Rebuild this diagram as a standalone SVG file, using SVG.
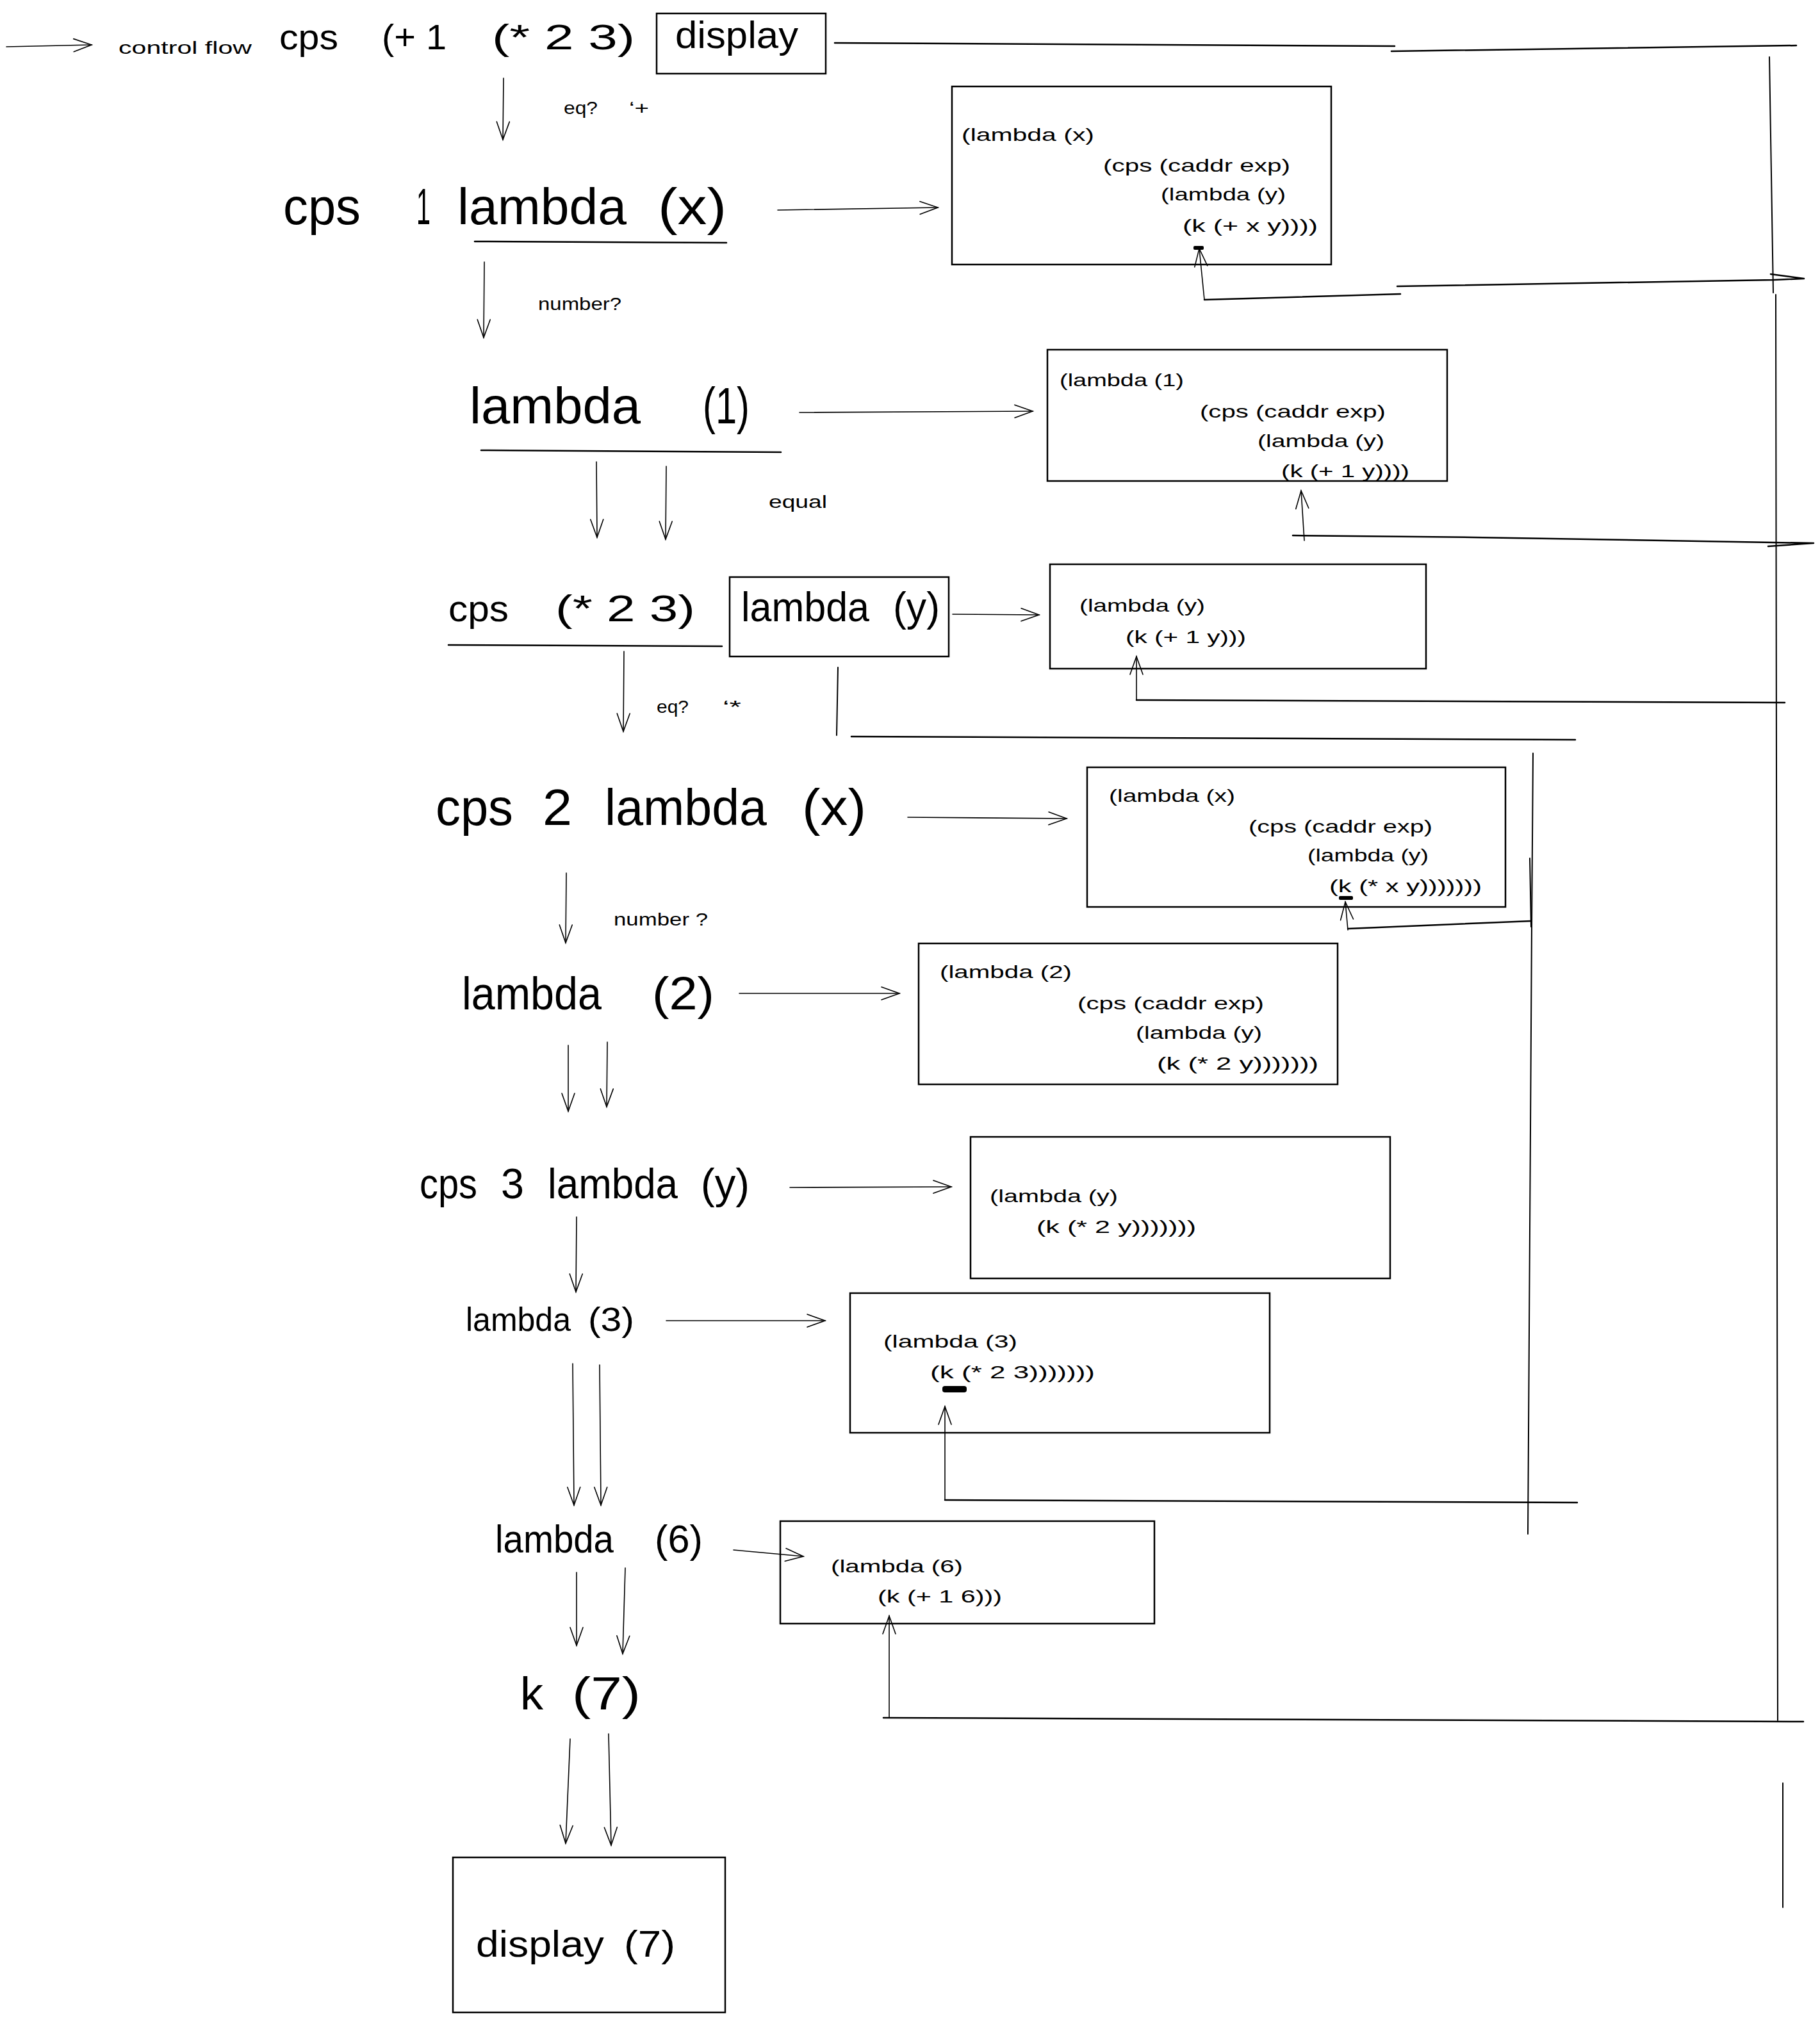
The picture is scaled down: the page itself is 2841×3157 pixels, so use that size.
<svg xmlns="http://www.w3.org/2000/svg" width="2841" height="3157" viewBox="0 0 2841 3157">
<style>
.t{font-family:"Liberation Sans",Arial,sans-serif;fill:#000}
.s{font-size:28px}
.box{fill:none;stroke:#000;stroke-width:2.5}
.ln{fill:none;stroke:#000;stroke-width:2.5;stroke-linecap:round;stroke-linejoin:round}
.vl{fill:none;stroke:#000;stroke-width:2;stroke-linecap:round}
.ar{fill:none;stroke:#000;stroke-width:1.6;stroke-linecap:round;marker-end:url(#ah)}
.mk{fill:#000}
</style>
<defs>
<marker id="ah" markerUnits="userSpaceOnUse" markerWidth="40" markerHeight="30" refX="30" refY="15" orient="auto" viewBox="0 0 40 30">
<path d="M2,5 L30,15 L2,25" fill="none" stroke="#000" stroke-width="1.6" stroke-linecap="round"/>
</marker>
</defs>
<rect width="2841" height="3157" fill="#fff"/>

<g id="connectors">
<path class="ar" d="M10,73 L143,70"/>
<path class="ar" d="M786,122 L785,218"/>
<path class="ar" d="M1214,328 L1464,324"/>
<path class="ar" d="M756,409 L755,527"/>
<path class="ar" d="M1248,644 L1612,642"/>
<path class="ar" d="M931,721 L932,839"/>
<path class="ar" d="M1040,728 L1039,842"/>
<path class="ar" d="M1487,959 L1622,960"/>
<path class="ar" d="M974,1017 L973,1142"/>
<path class="vl" d="M1308,1042 L1306,1148"/>
<path class="ar" d="M1417,1276 L1665,1278"/>
<path class="ar" d="M884,1363 L883,1472"/>
<path class="ar" d="M1154,1551 L1404,1551"/>
<path class="ar" d="M887,1632 L887,1735"/>
<path class="ar" d="M948,1627 L947,1728"/>
<path class="ar" d="M1233,1854 L1485,1853"/>
<path class="ar" d="M900,1900 L899,2017"/>
<path class="ar" d="M1040,2062 L1288,2062"/>
<path class="ar" d="M894,2129 L896,2350"/>
<path class="ar" d="M936,2131 L938,2350"/>
<path class="ar" d="M1145,2420 L1254,2430"/>
<path class="ar" d="M900,2455 L900,2569"/>
<path class="ar" d="M976,2448 L972,2582"/>
<path class="ar" d="M890,2715 L883,2878"/>
<path class="ar" d="M950,2707 L954,2881"/>

<path class="ln" d="M1303,67 L2177,72"/>
<path class="ln" d="M2172,80 L2804,71"/>
<path class="vl" d="M2762,89 L2768,457"/>
<path class="vl" d="M2772,460 L2775,2686"/>
<path class="vl" d="M2783,2784 L2783,2978"/>

<path class="ln" d="M2764,428 L2816,435 L2769,437 L2181,447"/>
<path class="ln" d="M2186,459 L1880,468"/>
<path class="ar" d="M1880,468 L1872,388"/>

<path class="ln" d="M2760,853 L2831,848 L2300,839 L2018,836"/>
<path class="ar" d="M2036,844 L2031,766"/>

<path class="ln" d="M2786,1097 L1774,1093"/>
<path class="ar" d="M1774,1093 L1774,1025"/>

<path class="ln" d="M1329,1150 L2459,1155"/>
<path class="vl" d="M2393,1176 L2391,1447 L2385,2395"/>
<path class="vl" d="M2388,1340 L2390,1447"/>
<path class="ln" d="M2390,1438 L2104,1450"/>
<path class="ar" d="M2104,1452 L2100,1408"/>

<path class="ln" d="M2462,2346 L1475,2342"/>
<path class="ar" d="M1475,2342 L1475,2196"/>

<path class="ln" d="M2815,2688 L1379,2682"/>
<path class="ar" d="M1388,2682 L1388,2523"/>
</g>

<g id="n-control-flow">
<text class="t s" x="185" y="84" textLength="208" lengthAdjust="spacingAndGlyphs">control flow</text>
</g>

<g id="n-cps-top">
<text class="t" font-size="56" y="77"><tspan x="436" textLength="92" lengthAdjust="spacingAndGlyphs">cps</tspan><tspan x="596" textLength="101" lengthAdjust="spacingAndGlyphs">(+ 1</tspan><tspan x="768" textLength="223" lengthAdjust="spacingAndGlyphs">(* 2 3)</tspan></text>
</g>

<g id="n-display">
<rect class="box" x="1025" y="21" width="264" height="94"/>
<text class="t" font-size="60" x="1054" y="75" textLength="192" lengthAdjust="spacingAndGlyphs">display</text>
</g>

<g id="l-eq-plus">
<text class="t s" y="178"><tspan x="880" textLength="53" lengthAdjust="spacingAndGlyphs">eq?</tspan><tspan x="982" textLength="31" lengthAdjust="spacingAndGlyphs">‘+</tspan></text>
</g>

<g id="n-cps1">
<text class="t" font-size="80" y="350"><tspan x="442" textLength="121" lengthAdjust="spacingAndGlyphs">cps</tspan><tspan x="650" textLength="22" lengthAdjust="spacingAndGlyphs">1</tspan><tspan x="714" textLength="264" lengthAdjust="spacingAndGlyphs">lambda</tspan><tspan x="1027" textLength="107" lengthAdjust="spacingAndGlyphs">(x)</tspan></text>
<path class="ln" d="M741,377 L1134,379" stroke-width="3"/>
</g>

<g id="n-box1">
<rect class="box" x="1486" y="135" width="592" height="278"/>
<text class="t s" x="1501" y="220" textLength="207" lengthAdjust="spacingAndGlyphs">(lambda (x)</text>
<text class="t s" x="1722" y="268" textLength="292" lengthAdjust="spacingAndGlyphs">(cps (caddr exp)</text>
<text class="t s" x="1812" y="313" textLength="195" lengthAdjust="spacingAndGlyphs">(lambda (y)</text>
<text class="t s" x="1846" y="362" textLength="211" lengthAdjust="spacingAndGlyphs">(k (+ x y))))</text>
<rect class="mk" x="1863" y="384" width="16" height="6" rx="2"/>
</g>

<g id="l-number1">
<text class="t s" x="840" y="484" textLength="130" lengthAdjust="spacingAndGlyphs">number?</text>
</g>

<g id="n-lambda1">
<text class="t" font-size="80" y="661"><tspan x="733" textLength="267" lengthAdjust="spacingAndGlyphs">lambda</tspan><tspan x="1097" textLength="73" lengthAdjust="spacingAndGlyphs">(1)</tspan></text>
<path class="ln" d="M751,703 L1219,706" stroke-width="3"/>
</g>

<g id="n-box2">
<rect class="box" x="1635" y="546" width="624" height="205"/>
<text class="t s" x="1654" y="603" textLength="194" lengthAdjust="spacingAndGlyphs">(lambda (1)</text>
<text class="t s" x="1873" y="652" textLength="290" lengthAdjust="spacingAndGlyphs">(cps (caddr exp)</text>
<text class="t s" x="1963" y="698" textLength="198" lengthAdjust="spacingAndGlyphs">(lambda (y)</text>
<text class="t s" x="2000" y="745" textLength="200" lengthAdjust="spacingAndGlyphs">(k (+ 1 y))))</text>
</g>

<g id="l-equal">
<text class="t s" x="1200" y="793" textLength="91" lengthAdjust="spacingAndGlyphs">equal</text>
</g>

<g id="n-cps23">
<text class="t" font-size="58" y="970"><tspan x="700" textLength="94" lengthAdjust="spacingAndGlyphs">cps</tspan><tspan x="867" textLength="218" lengthAdjust="spacingAndGlyphs">(* 2 3)</tspan></text>
<path class="ln" d="M700,1007 L1127,1009" stroke-width="3"/>
</g>

<g id="n-lambda-y">
<rect class="box" x="1139" y="901" width="342" height="124"/>
<text class="t" font-size="64" y="970"><tspan x="1157" textLength="200" lengthAdjust="spacingAndGlyphs">lambda</tspan><tspan x="1394" textLength="73" lengthAdjust="spacingAndGlyphs">(y)</tspan></text>
</g>

<g id="n-box3">
<rect class="box" x="1639" y="881" width="587" height="163"/>
<text class="t s" x="1685" y="955" textLength="196" lengthAdjust="spacingAndGlyphs">(lambda (y)</text>
<text class="t s" x="1757" y="1004" textLength="188" lengthAdjust="spacingAndGlyphs">(k (+ 1 y)))</text>
</g>

<g id="l-eq-times">
<text class="t s" y="1113"><tspan x="1025" textLength="50" lengthAdjust="spacingAndGlyphs">eq?</tspan><tspan x="1128" textLength="29" lengthAdjust="spacingAndGlyphs">‘*</tspan></text>
</g>

<g id="n-cps2">
<text class="t" font-size="80" y="1288"><tspan x="680" textLength="121" lengthAdjust="spacingAndGlyphs">cps</tspan><tspan x="847" textLength="46" lengthAdjust="spacingAndGlyphs">2</tspan><tspan x="944" textLength="253" lengthAdjust="spacingAndGlyphs">lambda</tspan><tspan x="1252" textLength="100" lengthAdjust="spacingAndGlyphs">(x)</tspan></text>
</g>

<g id="n-box4">
<rect class="box" x="1697" y="1198" width="653" height="218"/>
<text class="t s" x="1731" y="1252" textLength="197" lengthAdjust="spacingAndGlyphs">(lambda (x)</text>
<text class="t s" x="1949" y="1300" textLength="287" lengthAdjust="spacingAndGlyphs">(cps (caddr exp)</text>
<text class="t s" x="2041" y="1345" textLength="189" lengthAdjust="spacingAndGlyphs">(lambda (y)</text>
<text class="t s" x="2075" y="1393" textLength="238" lengthAdjust="spacingAndGlyphs">(k (* x y)))))))</text>
<rect class="mk" x="2090" y="1399" width="22" height="6" rx="2"/>
</g>

<g id="l-number2">
<text class="t s" x="958" y="1445" textLength="147" lengthAdjust="spacingAndGlyphs">number ?</text>
</g>

<g id="n-lambda2">
<text class="t" font-size="72" y="1576"><tspan x="721" textLength="218" lengthAdjust="spacingAndGlyphs">lambda</tspan><tspan x="1018" textLength="97" lengthAdjust="spacingAndGlyphs">(2)</tspan></text>
</g>

<g id="n-box5">
<rect class="box" x="1434" y="1473" width="654" height="220"/>
<text class="t s" x="1467" y="1527" textLength="206" lengthAdjust="spacingAndGlyphs">(lambda (2)</text>
<text class="t s" x="1682" y="1576" textLength="291" lengthAdjust="spacingAndGlyphs">(cps (caddr exp)</text>
<text class="t s" x="1773" y="1622" textLength="197" lengthAdjust="spacingAndGlyphs">(lambda (y)</text>
<text class="t s" x="1806" y="1670" textLength="252" lengthAdjust="spacingAndGlyphs">(k (* 2 y)))))))</text>
</g>

<g id="n-cps3">
<text class="t" font-size="66" y="1871"><tspan x="655" textLength="90" lengthAdjust="spacingAndGlyphs">cps</tspan><tspan x="782" textLength="36" lengthAdjust="spacingAndGlyphs">3</tspan><tspan x="855" textLength="203" lengthAdjust="spacingAndGlyphs">lambda</tspan><tspan x="1094" textLength="76" lengthAdjust="spacingAndGlyphs">(y)</tspan></text>
</g>

<g id="n-box6">
<rect class="box" x="1515" y="1775" width="655" height="221"/>
<text class="t s" x="1545" y="1877" textLength="200" lengthAdjust="spacingAndGlyphs">(lambda (y)</text>
<text class="t s" x="1618" y="1925" textLength="249" lengthAdjust="spacingAndGlyphs">(k (* 2 y)))))))</text>
</g>

<g id="n-lambda3">
<text class="t" font-size="52" y="2078"><tspan x="727" textLength="164" lengthAdjust="spacingAndGlyphs">lambda</tspan><tspan x="918" textLength="72" lengthAdjust="spacingAndGlyphs">(3)</tspan></text>
</g>

<g id="n-box7">
<rect class="box" x="1327" y="2019" width="655" height="218"/>
<text class="t s" x="1379" y="2104" textLength="209" lengthAdjust="spacingAndGlyphs">(lambda (3)</text>
<text class="t s" x="1452" y="2152" textLength="257" lengthAdjust="spacingAndGlyphs">(k (* 2 3)))))))</text>
<rect class="mk" x="1471" y="2164" width="38" height="10" rx="4"/>
</g>

<g id="n-lambda6">
<text class="t" font-size="62" y="2424"><tspan x="773" textLength="185" lengthAdjust="spacingAndGlyphs">lambda</tspan><tspan x="1022" textLength="75" lengthAdjust="spacingAndGlyphs">(6)</tspan></text>
</g>

<g id="n-box8">
<rect class="box" x="1218" y="2375" width="584" height="160"/>
<text class="t s" x="1297" y="2455" textLength="206" lengthAdjust="spacingAndGlyphs">(lambda (6)</text>
<text class="t s" x="1370" y="2502" textLength="194" lengthAdjust="spacingAndGlyphs">(k (+ 1 6)))</text>
</g>

<g id="n-k7">
<text class="t" font-size="72" y="2669"><tspan x="812" textLength="36" lengthAdjust="spacingAndGlyphs">k</tspan><tspan x="893" textLength="107" lengthAdjust="spacingAndGlyphs">(7)</tspan></text>
</g>

<g id="n-display7">
<rect class="box" x="707" y="2900" width="425" height="242"/>
<text class="t" font-size="58" y="3055"><tspan x="743" textLength="200" lengthAdjust="spacingAndGlyphs">display</tspan><tspan x="974" textLength="80" lengthAdjust="spacingAndGlyphs">(7)</tspan></text>
</g>
</svg>
